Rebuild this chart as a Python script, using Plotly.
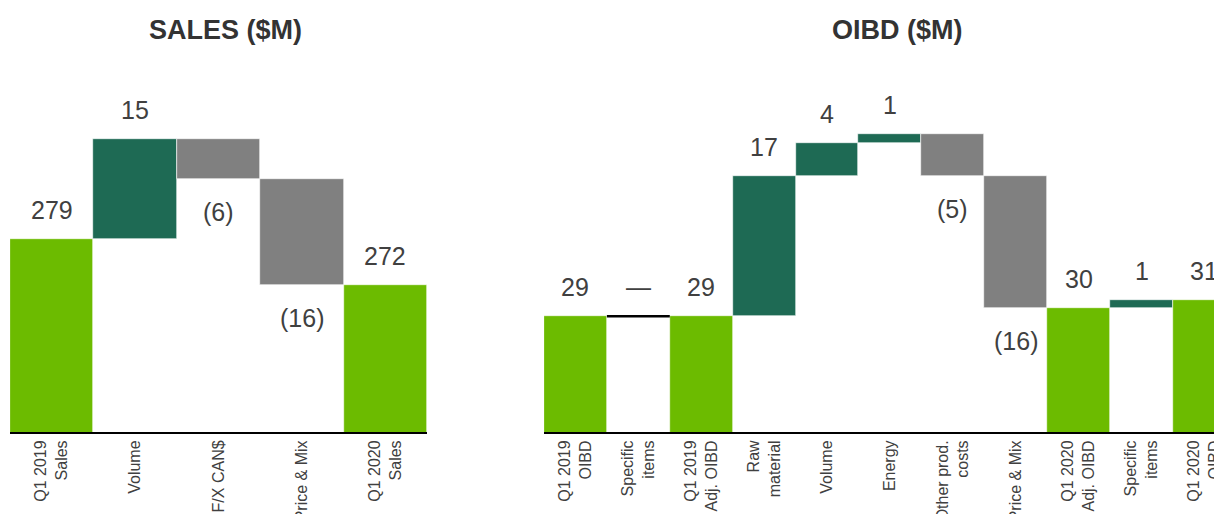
import plotly.graph_objects as go

# ---------------- data ----------------
sales_categories = ["Q1 2019<br>Sales", "Volume", "F/X CAN$", "Price & Mix", "Q1 2020<br>Sales"]
sales_values = [279, 15, -6, -16, 272]
sales_kinds = ["total", "delta", "delta", "delta", "total"]

oibd_categories = ["Q1 2019<br>OIBD", "Specific<br>items", "Q1 2019<br>Adj. OIBD", "Raw<br>material",
                   "Volume", "Energy", "Other prod.<br>costs", "Price & Mix", "Q1 2020<br>Adj. OIBD",
                   "Specific<br>items", "Q1 2020<br>OIBD"]
oibd_values = [29, 0, 29, 17, 4, 1, -5, -16, 30, 1, 31]
oibd_kinds = ["total", "delta", "total", "delta", "delta", "delta", "delta", "delta", "total", "delta", "total"]

titles = ["SALES ($M)", "OIBD ($M)"]

# ---------------- style ----------------
C_TOTAL = "#6CBB00"
C_UP = "#1E6A54"
C_DOWN = "#808080"
TXT = "#404040"
FONT = "Liberation Sans Narrow, Arial Narrow, Liberation Sans, Arial, sans-serif"

# page body has an 8px margin, so the figure is drawn 8px smaller and offset
OFF = 8
W, H = 1222 - OFF, 514 - OFF


def px_x(p):
    return (p - OFF) / W


def px_y(p):
    return 1 - (p - OFF) / H


def waterfall(values, kinds):
    bases, heights, colors, labels, label_y, label_dir = [], [], [], [], [], []
    level = 0
    for v, k in zip(values, kinds):
        if k == "total":
            bases.append(0)
            heights.append(v)
            colors.append(C_TOTAL)
            level = v
            labels.append(str(v))
            label_y.append(v)
            label_dir.append(1)
        else:
            if v >= 0:
                bases.append(level)
                heights.append(v)
                colors.append(C_UP)
                labels.append(str(v) if v != 0 else "—")
                label_y.append(level + v)
                label_dir.append(1)
            else:
                bases.append(level + v)
                heights.append(-v)
                colors.append(C_DOWN)
                labels.append("(%d)" % (-v))
                label_y.append(level + v)
                label_dir.append(-1)
            level += v
    return bases, heights, colors, labels, label_y, label_dir


fig = go.Figure()
annotations = []

charts = [
    (sales_categories, sales_values, sales_kinds, "x", "y"),
    (oibd_categories, oibd_values, oibd_kinds, "x2", "y2"),
]

for cats, vals, kinds, xa, ya in charts:
    b, h, c, labs, ly, ld = waterfall(vals, kinds)
    pos = list(range(len(cats)))
    fig.add_trace(go.Bar(
        x=pos, y=h, base=b, width=1,
        marker=dict(color=c, line=dict(color="white", width=0.6)),
        xaxis=xa, yaxis=ya, showlegend=False, hoverinfo="skip",
    ))
    # zero-change items drawn as a flat black line
    for i, (v, k) in enumerate(zip(vals, kinds)):
        if k == "delta" and v == 0:
            fig.add_trace(go.Scatter(
                x=[i - 0.5, i + 0.5], y=[b[i], b[i]], mode="lines",
                line=dict(color="black", width=2.5),
                xaxis=xa, yaxis=ya, showlegend=False, hoverinfo="skip",
            ))
    for i in pos:
        annotations.append(dict(
            x=i, y=ly[i], xref=xa, yref=ya, text=labs[i], showarrow=False,
            yanchor="middle", xanchor="center",
            yshift=29 if ld[i] > 0 else -33,
            font=dict(family=FONT, size=25, color=TXT),
        ))

# titles
annotations.append(dict(x=px_x(225), y=px_y(30), xref="paper", yref="paper", text="<b>" + titles[0] + "</b>",
                        showarrow=False, xanchor="center", yanchor="middle",
                        font=dict(family=FONT, size=27, color="#333333")))
annotations.append(dict(x=px_x(897), y=px_y(30), xref="paper", yref="paper", text="<b>" + titles[1] + "</b>",
                        showarrow=False, xanchor="center", yanchor="middle",
                        font=dict(family=FONT, size=27, color="#333333")))

y_dom = [px_y(432), px_y(60)]

common_x = dict(
    tickangle=-90, tickfont=dict(family=FONT, size=16, color=TXT),
    showgrid=False, zeroline=False, showline=True, linecolor="black", linewidth=2,
    ticks="", fixedrange=True, automargin=False, ticklabeloverflow="allow",
)
common_y = dict(visible=False, showgrid=False, zeroline=False, fixedrange=True, automargin=False)

fig.update_layout(
    width=W, height=H,
    margin=dict(l=0, r=0, t=0, b=0, autoexpand=False),
    paper_bgcolor="white", plot_bgcolor="white",
    bargap=0,
    xaxis=dict(domain=[px_x(10), px_x(427)], range=[-0.5, 4.5],
               tickmode="array", tickvals=list(range(len(sales_categories))),
               ticktext=sales_categories, anchor="y", **common_x),
    yaxis=dict(domain=y_dom, range=[250, 305.8], anchor="x", **common_y),
    xaxis2=dict(domain=[px_x(544), 1.0], range=[-0.5, 10.28],
                tickmode="array", tickvals=list(range(len(oibd_categories))),
                ticktext=oibd_categories, anchor="y2", **common_x),
    yaxis2=dict(domain=y_dom, range=[15, 60], anchor="x2", **common_y),
    annotations=annotations,
)

fig.write_html("out.html")
